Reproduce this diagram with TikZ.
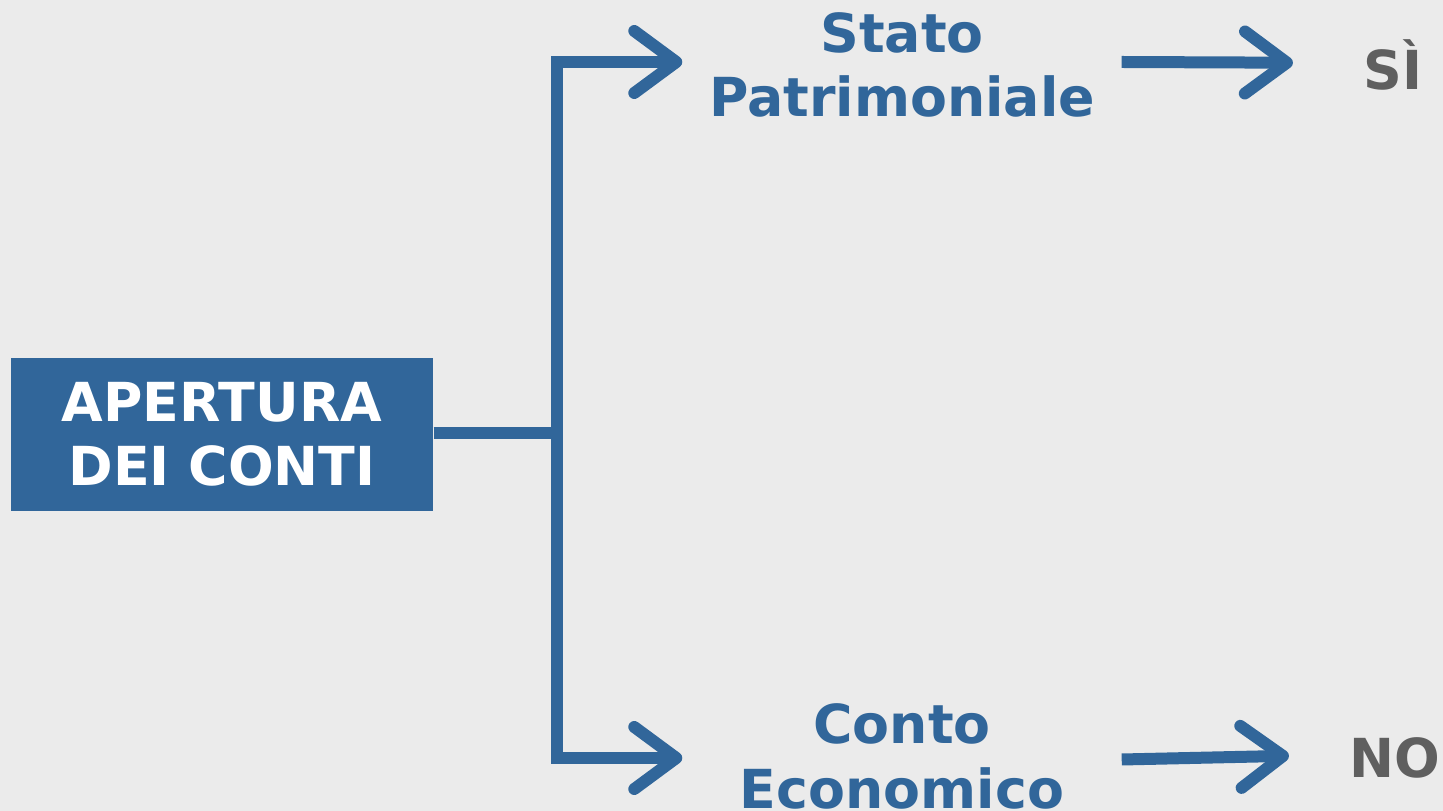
\documentclass[tikz,border=0pt]{standalone}
\usepackage{fontspec}
\setmainfont{DejaVu Sans}
\usetikzlibrary{arrows.meta}
\usetikzlibrary{positioning}
\definecolor{contiblue}{HTML}{31669A}
\definecolor{contigray}{HTML}{5F5F5F}
\definecolor{contibg}{HTML}{EBEBEB}

\begin{document}
\begin{tikzpicture}[
  link/.style={draw=contiblue,line width=0.12cm},
  arr/.style={link,-{Straight Barb[length=0.42cm,width=0.62cm,round]}},
  label/.style={font=\fontsize{15.3}{18.3}\selectfont\bfseries,align=center,inner ysep=0pt},
  account/.style={label,text=contiblue,minimum width=4.38cm}
]
\useasboundingbox[fill=contibg] (0,0) rectangle (14.43,8.11);
\node[label,fill=contiblue,text=white,minimum width=4.22cm,minimum height=1.53cm] (apertura) at (2.22,3.765) {APERTURA\\DEI CONTI};
\node[account] (sp) at (9.02,7.46) {Stato\\Patrimoniale};
\node[account] (ce) at (9.02,0.545) {Conto\\Economico};
\node[label,text=contigray,inner xsep=0pt] (si) at (13.93,7.46) {SÌ};
\node[label,text=contigray,inner xsep=0pt] (no) at (13.95,0.53) {NO};
\coordinate (junction) at (5.57,3.78);

\draw[link] (apertura.east |- junction) -- (junction);
\draw[arr] (junction) |- ([yshift=0.03cm]sp.west);
\draw[arr] (junction) |- ([yshift=-0.015cm]ce.west);
\draw[arr,shorten >=0.7cm] ([yshift=0.03cm]sp.east) -- ([yshift=0.02cm]sp.east -| si.west);
\draw[arr,shorten >=0.6cm] ([yshift=-0.03cm]ce.east) -- ([yshift=0.02cm]ce.east -| no.west);
\end{tikzpicture}
\end{document}
